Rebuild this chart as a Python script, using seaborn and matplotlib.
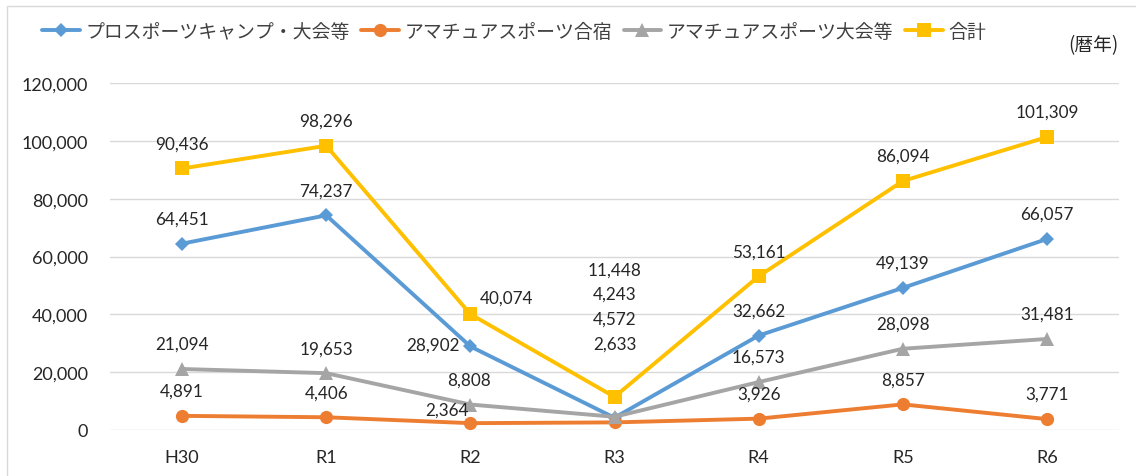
import matplotlib
matplotlib.use("Agg")
import matplotlib.pyplot as plt
from matplotlib.patches import Rectangle
import seaborn as sns
import pandas as pd

# ---- data ----
categories = ["H30", "R1", "R2", "R3", "R4", "R5", "R6"]
series_names = ["プロスポーツキャンプ・大会等", "アマチュアスポーツ合宿", "アマチュアスポーツ大会等", "合計"]
pro_values = [64451, 74237, 28902, 4243, 32662, 49139, 66057]
camp_values = [4891, 4406, 2364, 2633, 3926, 8857, 3771]
event_values = [21094, 19653, 8808, 4572, 16573, 28098, 31481]
total_values = [90436, 98296, 40074, 11448, 53161, 86094, 101309]
y_ticks = [0, 20000, 40000, 60000, 80000, 100000, 120000]
unit_label = "(暦年)"

# ---- styles ----
colors = ["#5B9BD5", "#ED7D31", "#A5A5A5", "#FFC000"]
markers = ["D", "o", "^", "s"]
msizes = [7.5, 9.5, 9.5, 9.5]
default_off = (0, 18)
# special label offsets (points) keyed by (series index, category index)
special_off = {
    (3, 2): (26, 12),
    (0, 2): (-27, 1.5),
    (2, 2): (-1, 18),
    (1, 2): (-16.5, 9.5),
    (3, 3): (0, 91.5),
    (0, 3): (0, 89),
    (2, 3): (0, 70.5),
    (1, 3): (0, 56.5),
}

sns.set_style("white")
plt.rcParams["font.family"] = ["Lato", "Noto Sans CJK JP", "DejaVu Sans"]

W, H = 1136, 477
fig = plt.figure(figsize=(W / 100, H / 100), dpi=100)
ax = fig.add_axes([110 / W, 46 / H, (1119 - 110) / W, (431 - 84) / H])

all_values = [pro_values, camp_values, event_values, total_values]
for i, (name, vals) in enumerate(zip(series_names, all_values)):
    df = pd.DataFrame({"cat": categories, "val": vals})
    sns.lineplot(data=df, x="cat", y="val", ax=ax, color=colors[i], marker=markers[i],
                 markersize=msizes[i], markeredgewidth=0, linewidth=2.8, label=name,
                 sort=False, zorder=3 + i)

for i, vals in enumerate(all_values):
    for j, v in enumerate(vals):
        off = special_off.get((i, j), default_off)
        ax.annotate(f"{v:,}", xy=(j, v), xytext=off, textcoords="offset points",
                    ha="center", va="center", fontsize=12.3, color="#262626", zorder=10)

ax.set_xlim(-0.5, len(categories) - 0.5)
ax.set_ylim(0, 120000)
ax.set_yticks(y_ticks)
ax.set_yticklabels([f"{t:,}" for t in y_ticks])
ax.grid(axis="y", color="#D9D9D9", linewidth=1)
ax.grid(axis="x", visible=False)
for s in ax.spines.values():
    s.set_visible(False)
ax.tick_params(axis="y", length=0, pad=16, labelsize=13, labelcolor="#262626")
ax.tick_params(axis="x", length=0, pad=14, labelsize=13, labelcolor="#262626")
ax.set_xlabel("")
ax.set_ylabel("")

handles, labels = ax.get_legend_handles_labels()
ax.get_legend().remove()
fig.legend(handles, labels, loc="center left", bbox_to_anchor=(42 / W, 1 - 32 / H),
           ncol=4, frameon=False, borderpad=0, borderaxespad=0,
           handlelength=2.0, handletextpad=0.3, columnspacing=0.6,
           prop={"family": ["Noto Sans CJK JP", "DejaVu Sans"], "size": 13.6},
           labelcolor="#404040")

fig.text(1118 / W, 1 - 46 / H, unit_label, ha="right", va="center", fontsize=13.5,
         family=["Noto Sans CJK JP", "DejaVu Sans"], color="#262626")

fig.patches.append(Rectangle((7 / W, -0.1), 2, 1.1 - 7 / H, transform=fig.transFigure,
                             fill=False, edgecolor="#D9D9D9", linewidth=1))

fig.savefig("out.png", dpi=100)
